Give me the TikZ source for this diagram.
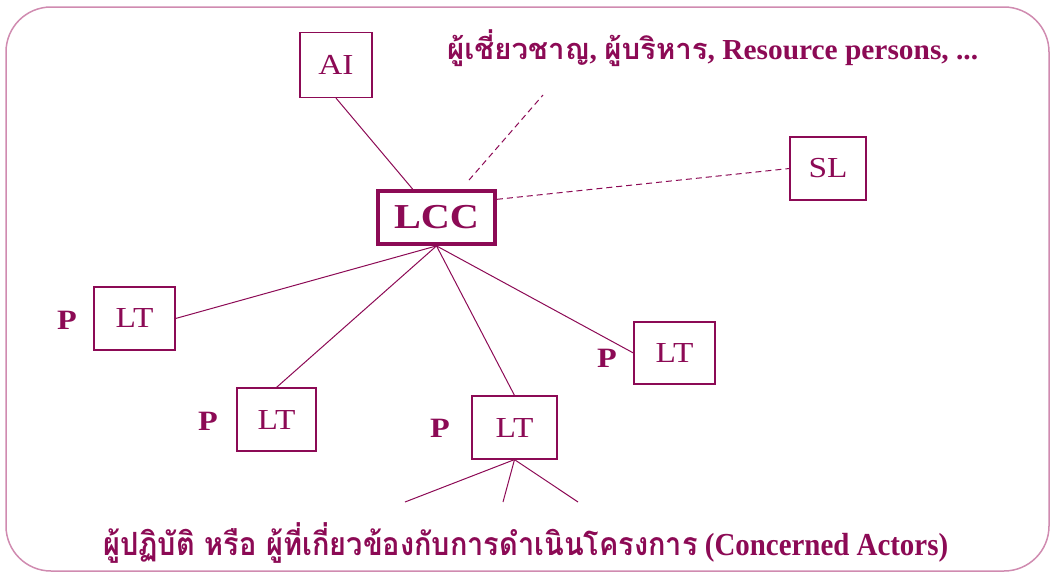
\documentclass[tikz,border=0pt]{standalone}
\usepackage{fontspec}
\setmainfont{Liberation Serif}
\newfontfamily\thaifont[Script=Thai]{Loma}
\newfontfamily\widefont[FakeStretch=1.15]{Liberation Serif}
\usetikzlibrary{calc}
\definecolor{mag}{HTML}{8C0A55}
\definecolor{framec}{HTML}{D08BB0}
\tikzset{
  box/.style={draw=mag, line width=1.2pt, text=mag, inner sep=0pt, font=\widefont\fontsize{29}{31}\selectfont},
  lcbox/.style={draw=mag, line width=3.8pt, text=mag, inner sep=0pt, font=\widefont\fontsize{35}{37}\selectfont\bfseries},
  conn/.style={draw=mag, line width=1pt},
  dconn/.style={draw=mag, line width=1pt, dash pattern=on 6pt off 4pt},
  plabel/.style={text=mag, font=\widefont\fontsize{28}{30}\selectfont\bfseries},
  title/.style={text=mag, font=\fontsize{29}{31}\selectfont\bfseries, inner sep=0pt}
}
\begin{document}
\begin{tikzpicture}[x=1pt,y=-1pt]
\useasboundingbox (0,0) rectangle (1055,573);
\draw[framec, line width=1.5pt, rounded corners=45pt] (6,7) rectangle (1049,571);

\node[box, minimum width=72, minimum height=65] (ai) at (336,65) {AI};
\node[lcbox, minimum width=117, minimum height=53] (lcc) at (436.5,217.5) {LCC};
\node[box, minimum width=76, minimum height=63] (sl) at (828,168.5) {SL};
\node[box, minimum width=81, minimum height=63] (lt1) at (134.5,318.5) {LT};
\node[box, minimum width=79, minimum height=63] (lt2) at (276.5,419.5) {LT};
\node[box, minimum width=85, minimum height=63] (lt3) at (514.5,427.5) {LT};
\node[box, minimum width=81, minimum height=62] (lt4) at (674.5,353) {LT};

\node[plabel] (p1) at (67,320) {P};
\node[plabel] (p2) at (208,421) {P};
\node[plabel] (p3) at (440,428) {P};
\node[plabel] (p4) at (607,358) {P};

\coordinate (rp) at (543,95);
\coordinate (ca1) at (405,502);
\coordinate (ca2) at (503,502);
\coordinate (ca3) at (578,502);

\draw[conn] (ai.south) -- (lcc);
\draw[dconn, shorten <=12pt] (lcc) -- (rp);
\draw[dconn] ($(lcc.north east)!0.18!(lcc.south east)$) -- (sl.west);
\draw[conn] (lcc.south) -- (lt1.east);
\draw[conn] (lcc.south) -- (lt2.north);
\draw[conn] (lcc.south) -- (lt3.north);
\draw[conn] (lcc.south) -- (lt4.west);
\draw[conn] (lt3.south) -- (ca1);
\draw[conn] (lt3.south) -- (ca2);
\draw[conn] (lt3.south) -- (ca3);

\node[title, anchor=west] (top) at (447,48) {\resizebox{531pt}{\height}{{\thaifont ผู้เชี่ยวชาญ}, {\thaifont ผู้บริหาร}, Resource persons, ...}};
\node[title, anchor=west, font=\fontsize{32}{34}\selectfont\bfseries] (bot) at (103,543) {\resizebox{845pt}{\height}{{\thaifont ผู้ปฏิบัติ หรือ ผู้ที่เกี่ยวข้องกับการดำเนินโครงการ} (Concerned Actors)}};
\end{tikzpicture}
\end{document}
